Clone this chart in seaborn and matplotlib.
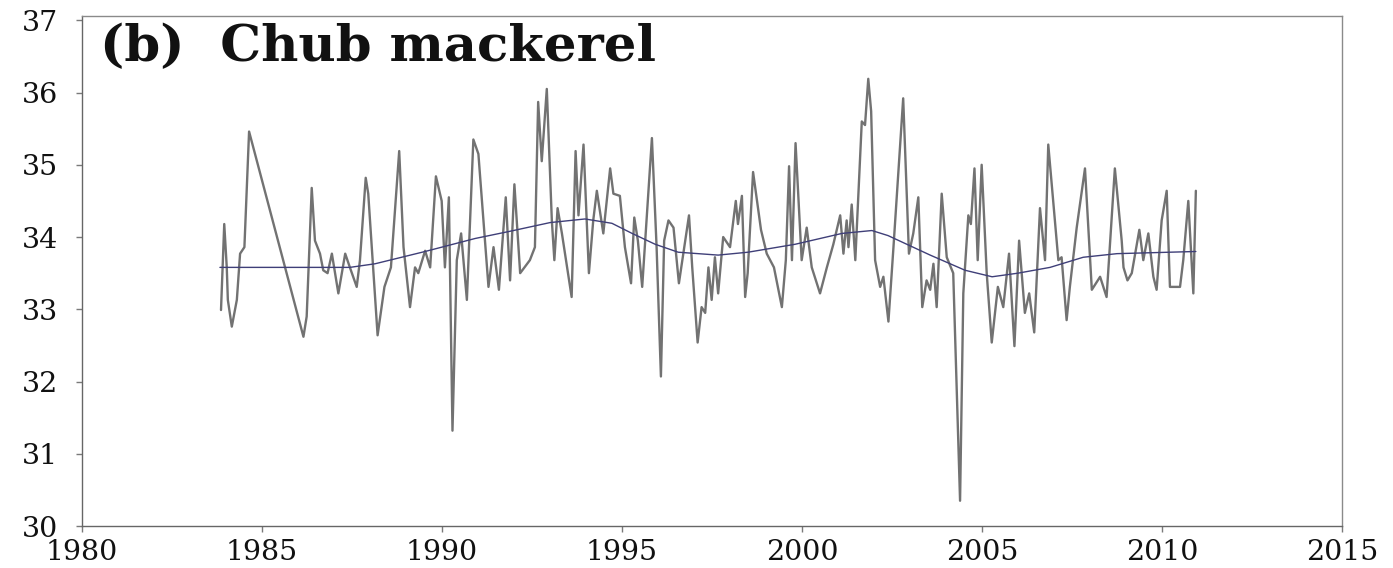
import matplotlib
matplotlib.use("Agg")
import matplotlib.pyplot as plt
import numpy as np
import pandas as pd
import seaborn as sns

# Monthly sea temperature-like series (decimal year, value)
obs_years = [
    1983.86, 1983.95, 1984.02, 1984.05, 1984.16, 1984.30, 1984.39, 1984.51, 1984.64,
    1986.15, 1986.24, 1986.38, 1986.47, 1986.61, 1986.70, 1986.82, 1986.94, 1987.12,
    1987.31, 1987.44, 1987.63, 1987.72, 1987.88, 1987.95, 1988.21,
    1988.40, 1988.58, 1988.81, 1988.93, 1989.11, 1989.25, 1989.34, 1989.53, 1989.67,
    1989.83, 1989.99, 1990.08, 1990.19, 1990.29, 1990.41, 1990.53, 1990.69, 1990.87,
    1991.01, 1991.29, 1991.43, 1991.58, 1991.77, 1991.89, 1992.01, 1992.17, 1992.44,
    1992.58, 1992.67, 1992.77, 1992.91,
    1993.05, 1993.12, 1993.21, 1993.33, 1993.60, 1993.71, 1993.79, 1993.93, 1994.08,
    1994.20, 1994.30, 1994.48, 1994.67, 1994.76, 1994.94, 1995.08, 1995.25, 1995.34,
    1995.44, 1995.56, 1995.83, 1995.96, 1996.08, 1996.17, 1996.29, 1996.43, 1996.58,
    1996.86, 1996.95, 1997.10, 1997.21, 1997.31, 1997.40, 1997.49, 1997.58, 1997.67,
    1997.81, 1998.00, 1998.16, 1998.22, 1998.33, 1998.42, 1998.49, 1998.64, 1998.86,
    1999.02, 1999.22, 1999.44, 1999.55, 1999.64, 1999.72, 1999.82, 1999.99, 2000.13,
    2000.27, 2000.50, 2000.69, 2000.87, 2001.06, 2001.15, 2001.24, 2001.29, 2001.38,
    2001.48, 2001.66, 2001.75, 2001.84, 2001.92, 2002.03, 2002.17, 2002.26, 2002.40,
    2002.54, 2002.81, 2002.97, 2003.09, 2003.23, 2003.34, 2003.46, 2003.56, 2003.65,
    2003.74, 2003.88, 2004.02, 2004.20, 2004.39, 2004.48, 2004.62, 2004.69, 2004.79,
    2004.88, 2004.99, 2005.13, 2005.27, 2005.44, 2005.59, 2005.75, 2005.90, 2006.03,
    2006.19, 2006.31, 2006.45, 2006.61, 2006.75, 2006.84,
    2007.12, 2007.21, 2007.35, 2007.44, 2007.63, 2007.86, 2008.05, 2008.28, 2008.46,
    2008.69, 2008.88, 2008.93, 2009.04, 2009.16, 2009.37, 2009.48, 2009.62, 2009.76,
    2009.85, 2009.99, 2010.13, 2010.22, 2010.50, 2010.59, 2010.73, 2010.87, 2010.94,
]
obs_values = [
    32.99, 34.18, 33.58, 33.13, 32.76, 33.13, 33.77, 33.86, 35.46,
    32.62, 32.90, 34.68, 33.95, 33.77, 33.54, 33.50, 33.77, 33.22,
    33.77, 33.58, 33.31, 33.68, 34.82, 34.60, 32.64,
    33.31, 33.58, 35.19, 33.86, 33.03, 33.58, 33.50, 33.81, 33.58,
    34.84, 34.50, 33.58, 34.55, 31.32, 33.68, 34.05, 33.13, 35.35,
    35.15, 33.31, 33.86, 33.27, 34.55, 33.40, 34.73, 33.50, 33.68,
    33.86, 35.87, 35.05, 36.05,
    34.23, 33.68, 34.40, 34.05, 33.17, 35.19, 34.30, 35.28, 33.50,
    34.23, 34.64, 34.05, 34.95, 34.60, 34.57, 33.86, 33.36, 34.27,
    33.95, 33.31, 35.37, 33.86, 32.07, 33.95, 34.23, 34.13, 33.36,
    34.30, 33.58, 32.54, 33.03, 32.95, 33.58, 33.13, 33.72, 33.22,
    34.00, 33.86, 34.50, 34.18, 34.57, 33.17, 33.50, 34.90, 34.10,
    33.77, 33.58, 33.03, 33.68, 34.98, 33.68, 35.30, 33.68, 34.13,
    33.58, 33.22, 33.58, 33.90, 34.30, 33.77, 34.23, 33.86, 34.45,
    33.68, 35.60, 35.55, 36.19, 35.74, 33.68, 33.31, 33.45, 32.83,
    33.86, 35.92, 33.77, 34.05, 34.55, 33.03, 33.40, 33.27, 33.63,
    33.03, 34.60, 33.72, 33.50, 30.35, 33.22, 34.30, 34.18, 34.95,
    33.68, 35.00, 33.50, 32.54, 33.31, 33.03, 33.77, 32.49, 33.95,
    32.95, 33.22, 32.68, 34.40, 33.68, 35.28,
    33.68, 33.72, 32.85, 33.31, 34.13, 34.95, 33.27, 33.45, 33.17,
    34.95, 33.95, 33.58, 33.40, 33.50, 34.10, 33.68, 34.05, 33.45,
    33.27, 34.23, 34.64, 33.31, 33.31, 33.68, 34.50, 33.22, 34.64,
]

# Long-term smoothed trend
trend_years = [
    1983.83, 1987.44, 1988.14, 1989.53, 1990.92, 1991.89, 1993.00, 1993.97, 1994.72,
    1995.28, 1995.92, 1996.56, 1997.67, 1998.50, 1999.81, 2001.11, 2001.94, 2002.39,
    2003.56, 2004.53, 2005.28, 2006.00, 2006.89, 2007.81, 2008.75, 2010.94,
]
trend_values = [
    33.58, 33.58, 33.63, 33.80, 33.98, 34.08, 34.20, 34.25, 34.19,
    34.05, 33.90, 33.79, 33.75, 33.79, 33.90, 34.05, 34.09, 34.02,
    33.75, 33.54, 33.45, 33.50, 33.58, 33.72, 33.77, 33.80,
]

x_ticks = [1980, 1985, 1990, 1995, 2000, 2005, 2010, 2015]
y_ticks = [30, 31, 32, 33, 34, 35, 36, 37]
panel_title = "(b)  Chub mackerel"

obs_df = pd.DataFrame({"year": obs_years, "value": obs_values})
trend_df = pd.DataFrame({"year": trend_years, "value": trend_values})

sns.set_theme(style="white")
plt.rcParams["font.family"] = ["DejaVu Serif", "Liberation Serif"]

fig = plt.figure(figsize=(13.93, 5.68), dpi=100)
ax = fig.add_axes([0.0589, 0.0739, 0.9045, 0.898])

sns.lineplot(data=obs_df, x="year", y="value", ax=ax, estimator=None, sort=False,
             color="#727272", linewidth=1.7)
sns.lineplot(data=trend_df, x="year", y="value", ax=ax, estimator=None, sort=False,
             color="#3f3f78", linewidth=1.0)

ax.set_xlim(1980, 2015)
ax.set_ylim(30, 37.06)
ax.set_xticks(x_ticks)
ax.set_yticks(y_ticks)
ax.set_xlabel("")
ax.set_ylabel("")
ax.tick_params(axis="both", which="major", labelsize=20.5, length=4, width=1,
               color="#7a7a7a", direction="out")
ax.tick_params(axis="x", pad=5)
ax.tick_params(axis="y", pad=13)
ax.tick_params(axis="both", labelcolor="#111111")
ax.xaxis.set_ticks_position("bottom")
ax.yaxis.set_ticks_position("left")

for side in ["left", "bottom", "top", "right"]:
    ax.spines[side].set_visible(True)
    ax.spines[side].set_color("#8a8a8a")
    ax.spines[side].set_linewidth(1.0)
ax.spines["left"].set_color("#666666")
ax.spines["bottom"].set_color("#666666")

ax.text(0.014, 0.912, panel_title, transform=ax.transAxes, fontsize=37,
        fontweight="bold", va="baseline", ha="left", color="#111111")

fig.savefig("out.png", dpi=100, facecolor="white")
